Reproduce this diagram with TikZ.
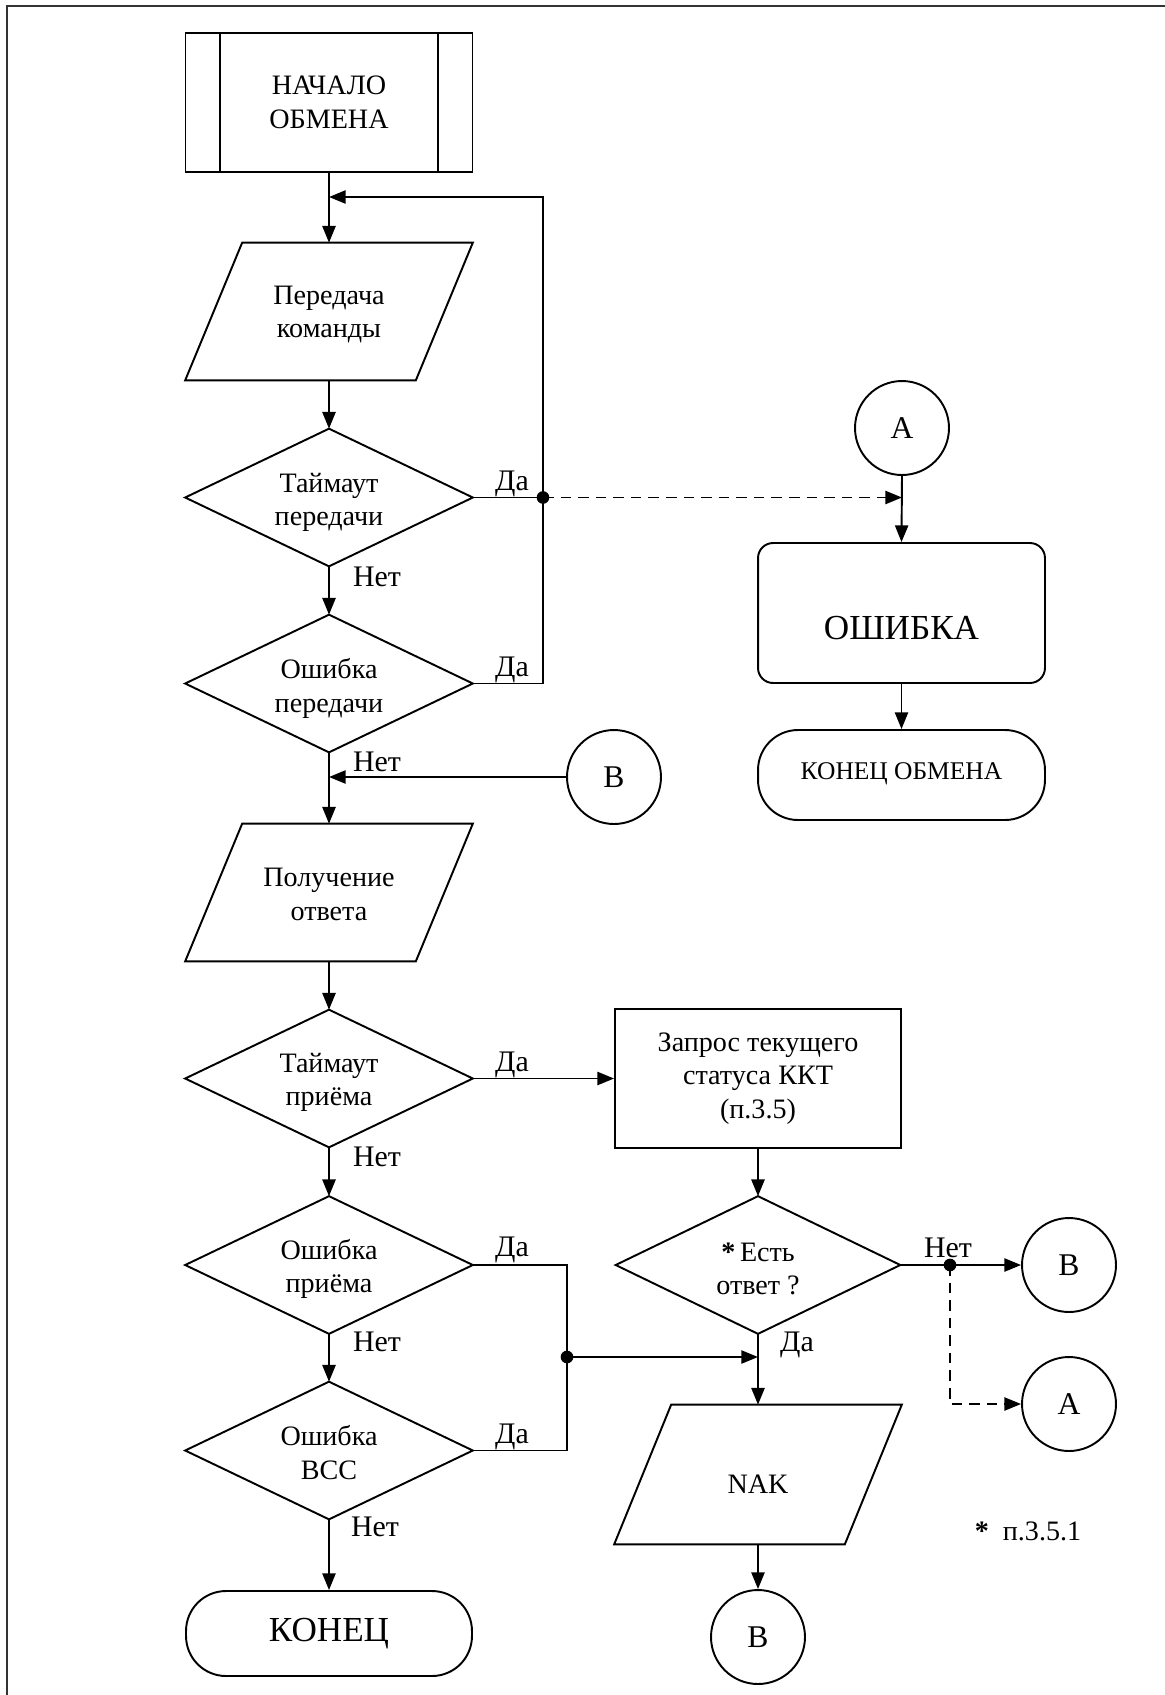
\documentclass[tikz,border=0pt]{standalone}
\usepackage{fontspec}
\setmainfont{Liberation Serif}
\usetikzlibrary{arrows.meta}
\begin{document}
\begin{tikzpicture}[x=0.02cm,y=-0.02cm,
  every node/.style={font=\fontsize{16}{19}\selectfont, align=center, inner sep=0pt},
  ln/.style={line width=1.1pt},
  arr/.style={ln, -{Triangle[length=9.5pt,width=7.5pt]}},
  dsh/.style={dash pattern=on 6pt off 4pt},
  blk/.style={minimum width=5.74cm, minimum height=2.74cm},
  rectbox/.style={draw, ln, minimum width=5.74cm, minimum height=2.78cm},
  conn/.style={draw, ln, circle, minimum size=1.88cm, font=\fontsize{18}{20}\selectfont},
  lab/.style={font=\fontsize{17}{20}\selectfont},
  term/.style={draw, ln, rounded corners=0.8cm},
  dot/.style={fill=black}
]
\useasboundingbox (0,0) rectangle (1165,1695);
\draw[line width=1pt, black!80] (7,1695) -- (7,6) -- (1165,6);

% ---------- main column ----------
\node[rectbox] (start) at (329,102.5) {НАЧАЛО\\ОБМЕНА};
\draw[ln] ([xshift=0.7cm]start.north west) -- ([xshift=0.7cm]start.south west);
\draw[ln] ([xshift=-0.7cm]start.north east) -- ([xshift=-0.7cm]start.south east);

\node[blk] (p1) at (329,311.5) {};
\node[blk] (d1) at (329,497.5) {};
\node[blk] (d2) at (329,683.5) {};
\node[blk] (p2) at (329,892.5) {};
\node[blk] (d3) at (329,1078.5) {};
\node[blk] (d4) at (329,1265) {};
\node[blk] (d5) at (329,1450.5) {};
\node[term, minimum width=5.72cm, minimum height=1.7cm, font=\fontsize{20}{22}\selectfont] (end) at (329,1633.5) {КОНЕЦ};

\node (p1t) at ([yshift=-0.06cm]p1.center) {Передача\\команды};
\node (d1t) at ([yshift=-0.1cm]d1.center) {Таймаут\\передачи};
\node (d2t) at ([yshift=-0.1cm]d2.center) {Ошибка\\передачи};
\node (p2t) at ([yshift=-0.04cm]p2.center) {Получение\\ответа};
\node (d3t) at ([yshift=-0.08cm]d3.center) {Таймаут\\приёма};
\node (d4t) at ([yshift=-0.08cm]d4.center) {Ошибка\\приёма};
\node (d5t) at ([yshift=-0.04cm]d5.center) {Ошибка\\BCC};

% ---------- right column ----------
\node[conn] (A1) at (902,428) {A};
\node[draw, ln, rounded corners=0.3cm, minimum width=5.74cm, minimum height=2.8cm] (err) at (901.5,613) {};
\node[font=\fontsize{20}{22}\selectfont] (errt) at ([yshift=-0.3cm]err.center) {ОШИБКА};
\node[term, minimum width=5.74cm, minimum height=1.8cm, font=\fontsize{14.5}{17}\selectfont] (endx) at (901.5,775) {\raisebox{0.14cm}{КОНЕЦ ОБМЕНА}};
\node[conn] (B1) at (614,777) {B};

\node[rectbox, minimum width=5.72cm] (req) at (758,1078.5) {Запрос текущего\\статуса ККТ\\(п.3.5)};
\node[blk, minimum width=5.68cm] (d6) at (758,1265) {};
\node (d6t) at ([yshift=-0.08cm]d6.center) {\textbf{*}\,Есть\\ответ ?};
\node[blk, minimum height=2.78cm] (nak) at (758,1474.5) {};
\node (nakt) at ([yshift=-0.2cm]nak.center) {NAK};
\node[conn] (B2) at (1069,1265) {B};
\node[conn] (A2) at (1069,1404) {A};
\node[conn] (B3) at (758,1637) {B};
\node (note) at (1028,1531) {\textbf{*}\enspace п.3.5.1};

% ---------- shape outlines ----------
\foreach \n in {d1,d2,d3,d4,d5,d6}
  \draw[ln] (\n.north) -- (\n.east) -- (\n.south) -- (\n.west) -- cycle;
\foreach \n in {p1,p2,nak}
  \draw[ln] ([xshift=1.14cm]\n.north west) -- (\n.north east) -- ([xshift=-1.14cm]\n.south east) -- (\n.south west) -- cycle;

% ---------- connectors ----------
\coordinate (j1) at (543,497.5);
\coordinate (m1) at (329,197);
\coordinate (j2) at (567,1357);
\coordinate (j3) at (950,1265);

\draw[arr] (start.south) -- (p1.north);
\draw[arr] (d2.east) -| (m1 -| j1) -- (m1);
\draw[arr] (p1.south) -- (d1.north);
\draw[ln] (d1.east) -- (j1);
\draw[arr, dsh] (j1) -- (j1 -| A1.south);
\draw[arr] (d1.south) -- (d2.north);
\draw[arr] (d2.south) -- (p2.north);
\draw[arr] (B1.west) -- (B1.west -| d2.south);
\draw[arr] (p2.south) -- (d3.north);
\draw[arr] (d3.south) -- (d4.north);
\draw[arr] (d4.south) -- (d5.north);
\draw[arr] (d5.south) -- (end.north);

\draw[arr] (A1.south) -- (err.north);
\draw[arr] (err.south) -- (endx.north);

\draw[arr] (d3.east) -- (req.west);
\draw[arr] (req.south) -- (d6.north);
\draw[arr] (d6.south) -- (nak.north);
\draw[arr] (nak.south) -- (B3.north);
\draw[ln] (d4.east) -| (j2);
\draw[ln] (d5.east) -| (j2);
\draw[arr] (j2) -- (j2 -| d6.south);
\draw[arr] (d6.east) -- (B2.west);
\draw[arr, dsh] (j3) |- (A2.west);

\fill[dot] (j1) circle (3.6pt);
\fill[dot] (j2) circle (3.6pt);
\fill[dot] (j3) circle (3.6pt);

% ---------- branch labels ----------
\node[lab] (y1) at (512,484) {Да};
\node[lab] (y2) at (512,670) {Да};
\node[lab] (n1) at (377,577) {Нет};
\node[lab] (n2) at (377,762) {Нет};
\node[lab] (y3) at (512,1065) {Да};
\node[lab] (n3) at (377,1157) {Нет};
\node[lab] (y4) at (512,1250) {Да};
\node[lab] (n4) at (377,1342) {Нет};
\node[lab] (y5) at (512,1437) {Да};
\node[lab] (n5) at (375,1527) {Нет};
\node[lab] (n6) at (948,1248) {Нет};
\node[lab] (y6) at (797,1345) {Да};
\end{tikzpicture}
\end{document}
